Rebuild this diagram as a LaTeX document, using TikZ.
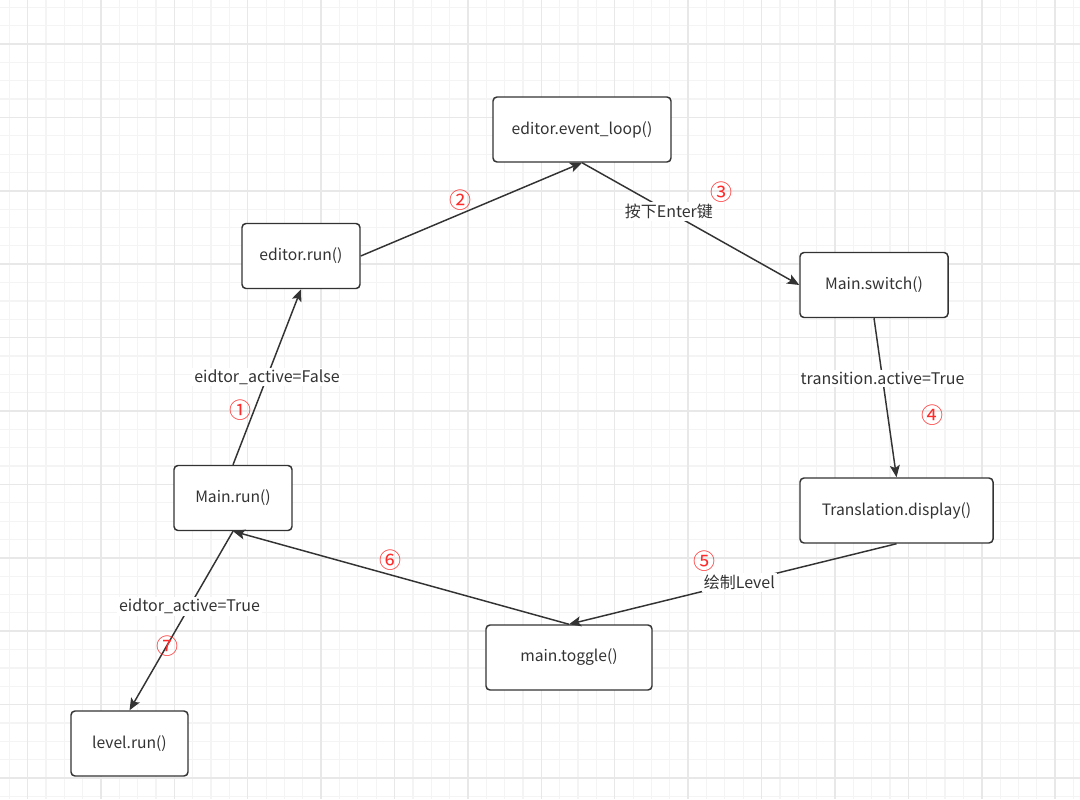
\documentclass[tikz,border=0pt]{standalone}
\usepackage{fontspec}
\setmainfont{Noto Sans CJK SC}
\usetikzlibrary{arrows.meta}

\definecolor{boxline}{HTML}{333333}
\definecolor{boxtext}{HTML}{333333}
\definecolor{stepred}{HTML}{FF2A2A}
\definecolor{gridminor}{HTML}{F4F4F4}
\definecolor{gridmajor}{HTML}{E8E8E8}

\tikzset{
  state/.style={draw=boxline, line width=1.1pt, rounded corners=3pt, fill=white,
    minimum height=48.75pt, text=boxtext, font=\fontsize{11.75}{13}\selectfont},
  flow/.style={draw=boxline, line width=1.1pt,
    -{Stealth[length=9pt, width=7.5pt, inset=2pt]}},
  cond/.style={fill=white, text=boxtext, inner sep=1.5pt, font=\fontsize{12}{13}\selectfont},
  stepnum/.style={text=stepred, inner sep=0pt, font=\fontsize{16.5}{16.5}\selectfont},
  minorgrid/.style={draw=gridminor, line width=0.9pt},
  majorgrid/.style={draw=gridmajor, line width=1.1pt}
}

\begin{document}
\begin{tikzpicture}[x=0.75pt, y=-0.75pt]
  \useasboundingbox (0,0) rectangle (1080,799);
  \fill[white] (0,0) rectangle (1080,799);

  % background grid
  \foreach \i in {0,...,58} {
    \draw[minorgrid] (9.2+\i*18.35, 0) -- ++(0,799);
  }
  \foreach \i in {0,...,43} {
    \draw[minorgrid] (0, 7.3+\i*18.35) -- ++(1080,0);
  }
  \foreach \j in {0,...,14} {
    \draw[majorgrid] (27.55+\j*73.4, 0) -- ++(0,799);
  }
  \foreach \j in {0,...,10} {
    \draw[majorgrid] (0, 44+\j*73.4) -- ++(1080,0);
  }

  % states
  \node[state, minimum width=133.5pt]  (eventloop)    at (582,129.5)   {editor.event\_loop()};
  \node[state, minimum width=88.5pt]   (editorrun)    at (301,256)     {editor.run()};
  \node[state, minimum width=111pt]    (mainswitch)   at (874,285)     {Main.switch()};
  \node[state, minimum width=144.75pt] (transdisplay) at (896.5,510.5) {Translation.display()};
  \node[state, minimum width=88.5pt]   (mainrun)      at (233,498)     {Main.run()};
  \node[state, minimum width=124.5pt]  (maintoggle)   at (569,657.5)   {main.toggle()};
  \node[state, minimum width=87.75pt]  (levelrun)     at (129.5,743.5) {level.run()};

  % transitions
  \draw[flow] (mainrun.north) -- (editorrun.south)
    node[cond, pos=0.5] {eidtor\_active=False};
  \draw[flow] (editorrun.east) -- (eventloop.south);
  \draw[flow] (eventloop.south) -- (mainswitch.west)
    node[cond, pos=0.4] {按下Enter键};
  \draw[flow] (mainswitch.south) -- (transdisplay.north)
    node[cond, pos=0.38] {transition.active=True};
  \draw[flow] (transdisplay.south) -- (maintoggle.north)
    node[cond, pos=0.48] {绘制Level};
  \draw[flow] (maintoggle.north) -- (mainrun.south);
  \draw[flow] (mainrun.south) -- (levelrun.north)
    node[cond, pos=0.42] {eidtor\_active=True};

  % step numbers
  \node[stepnum] (s1) at (240,410) {①};
  \node[stepnum] (s2) at (460,200) {②};
  \node[stepnum] (s3) at (721,192) {③};
  \node[stepnum] (s4) at (932,415) {④};
  \node[stepnum] (s5) at (704,561) {⑤};
  \node[stepnum] (s6) at (390,560) {⑥};
  \node[stepnum] (s7) at (167,646) {⑦};
\end{tikzpicture}
\end{document}
